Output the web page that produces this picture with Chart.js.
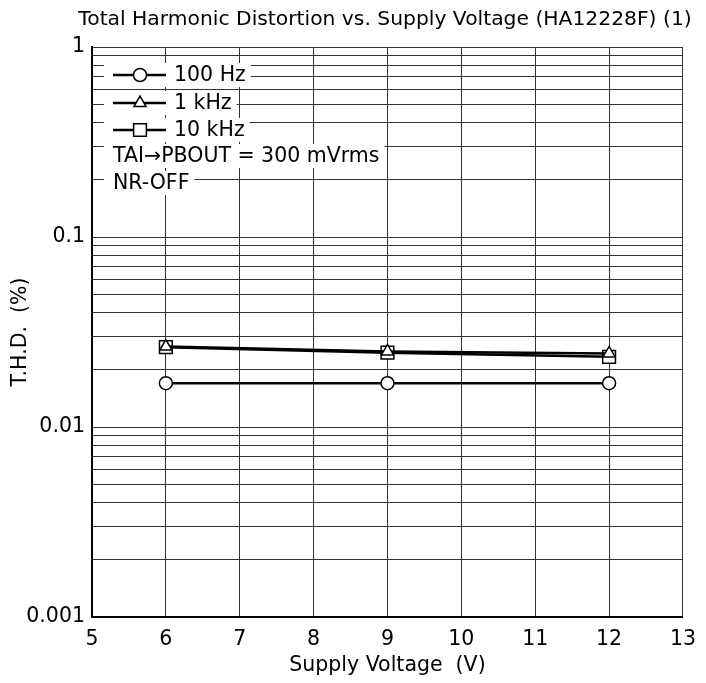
<!DOCTYPE html>
<html>
<head>
<meta charset="utf-8">
<script src="https://cdn.jsdelivr.net/npm/chart.js@4/dist/chart.umd.min.js"></script>
<style>
  html, body { margin: 0; padding: 0; background: #fff; }
  #wrap { width: 706px; height: 683px; }
</style>
</head>
<body>
<div id="wrap"><canvas id="thdChart" width="706" height="683"></canvas></div>
<script>
// supply voltage (V) of each measurement
const voltages = [6, 9, 12];
// T.H.D. (%)
const thd100Hz = [0.017, 0.017, 0.017];
const thd1kHz = [0.0265, 0.025, 0.0244];
const thd10kHz = [0.0263, 0.0246, 0.0234];

const xTicks = [5, 6, 7, 8, 9, 10, 11, 12, 13];
const yDecades = [0.001, 0.01, 0.1, 1];
const yTickLabels = ['0.001', '0.01', '0.1', '1'];

const titleText = 'Total Harmonic Distortion vs. Supply Voltage (HA12228F) (1)';
const legendRows = [
  {text: '100 Hz', style: 'circle', radius: 6.5},
  {text: '1 kHz', style: 'triangle', radius: 7},
  {text: '10 kHz', style: 'rect', radius: 9},
  {text: 'TAI\u2192PBOUT = 300 mVrms'},
  {text: 'NR-OFF'}
];

const FONT = '"DejaVu Sans", "Liberation Sans", Arial, sans-serif';

function pts(ys) {
  return voltages.map((v, i) => ({x: v, y: ys[i]}));
}

// all minor grid positions 1..9 x decade
let yGrid = [];
for (let d = 0; d < yDecades.length - 1; d++) {
  for (let m = 1; m < 10; m++) yGrid.push(+(yDecades[d] * m).toPrecision(3));
}
yGrid.push(1);

const titlePlugin = {
  id: 'topTitle',
  afterDraw(chart) {
    const ctx = chart.ctx;
    ctx.save();
    ctx.fillStyle = '#000';
    ctx.font = '20.3px ' + FONT;
    ctx.textAlign = 'center';
    ctx.textBaseline = 'alphabetic';
    ctx.fillText(titleText, 385, 25);
    ctx.restore();
  }
};

const boxLegend = {
  id: 'boxLegend',
  afterDatasetsDraw(chart) {
    const ctx = chart.ctx;
    const area = chart.chartArea;
    const rowY = [75, 103, 130, 156, 183];
    ctx.save();
    ctx.font = '20.5px ' + FONT;
    ctx.textBaseline = 'middle';
    legendRows.forEach((row, i) => {
      const y = rowY[i];
      const tx = row.style ? 174 : 113;
      const w = ctx.measureText(row.text).width;
      ctx.fillStyle = '#fff';
      ctx.fillRect(area.left + 12, y - 12, tx + w + 5 - (area.left + 12), 24);
      if (row.style) {
        ctx.strokeStyle = '#000';
        ctx.lineWidth = 2.5;
        ctx.beginPath();
        ctx.moveTo(113, y);
        ctx.lineTo(166, y);
        ctx.stroke();
        ctx.fillStyle = '#fff';
        ctx.lineWidth = 1.5;
        Chart.helpers.drawPoint(ctx, {pointStyle: row.style, radius: row.radius, borderWidth: 1.5}, 140, y);
      }
      ctx.fillStyle = '#000';
      ctx.fillText(row.text, tx, y + 1);
    });
    ctx.restore();
  }
};

function series(label, ys, style, radius) {
  return {
    label: label,
    data: pts(ys),
    borderColor: '#000',
    borderWidth: 2.5,
    pointStyle: style,
    pointRadius: radius,
    pointBackgroundColor: '#fff',
    pointBorderColor: '#000',
    pointBorderWidth: 1.5,
    tension: 0
  };
}

new Chart(document.getElementById('thdChart').getContext('2d'), {
  type: 'line',
  data: {
    datasets: [
      series('100 Hz', thd100Hz, 'circle', 6.5),
      series('1 kHz', thd1kHz, 'triangle', 7),
      series('10 kHz', thd10kHz, 'rect', 9)
    ]
  },
  options: {
    responsive: false,
    animation: false,
    layout: {padding: {top: 47, right: 21, bottom: 0, left: 0}},
    plugins: {legend: {display: false}, tooltip: {enabled: false}, title: {display: false}},
    scales: {
      x: {
        type: 'linear',
        min: 5,
        max: 13,
        afterBuildTicks(scale) { scale.ticks = xTicks.map(v => ({value: v})); },
        afterFit(scale) { scale.height = 66; },
        ticks: {color: '#000', font: {family: FONT, size: 20.5}, padding: 10, maxRotation: 0},
        grid: {color: '#333', lineWidth: 1, drawTicks: false},
        border: {color: '#000', width: 2},
        title: {display: true, text: 'Supply Voltage  (V)', color: '#000',
                font: {family: FONT, size: 20.5}, padding: {top: 0, bottom: 5}}
      },
      y: {
        type: 'logarithmic',
        min: 0.001,
        max: 1,
        afterBuildTicks(scale) { scale.ticks = yGrid.map(v => ({value: v})); },
        afterFit(scale) { scale.width = 92; },
        ticks: {
          color: '#000',
          font: {family: FONT, size: 20.5},
          padding: 7,
          autoSkip: false,
          callback(value) {
            const k = yDecades.findIndex(d => Math.abs(d - value) < d * 1e-6);
            return k >= 0 ? yTickLabels[k] : '';
          }
        },
        grid: {color: '#333', lineWidth: 1, drawTicks: false},
        border: {color: '#000', width: 2},
        title: {display: true, text: 'T.H.D.  (%)', color: '#000',
                font: {family: FONT, size: 20.5}, padding: {top: 8, bottom: 0}}
      }
    }
  },
  plugins: [titlePlugin, boxLegend]
});
</script>
</body>
</html>
